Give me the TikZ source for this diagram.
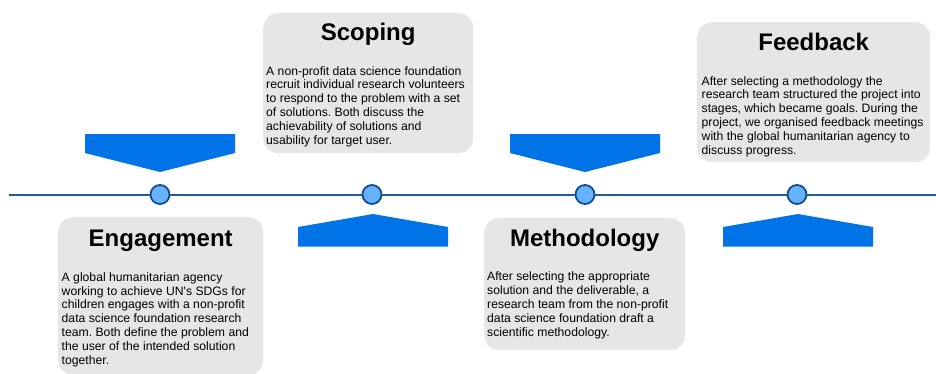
\documentclass[tikz,border=0pt]{standalone}
\usepackage{fontspec}
\setmainfont{Liberation Sans}
\usetikzlibrary{calc}

\definecolor{boxgrey}{HTML}{E6E6E6}
\definecolor{arrowblue}{HTML}{0073E6}
\definecolor{lineblue}{HTML}{1E5C9E}
\definecolor{dotblue}{HTML}{66B2FF}
\definecolor{dotrim}{HTML}{104E8B}

\tikzset{
	stagebox/.style={fill=boxgrey, rounded corners=15pt, inner sep=0pt, anchor=north west},
	stagetitle/.style={font=\fontsize{24}{27}\selectfont\bfseries, inner sep=0pt, anchor=base},
	stagetext/.style={font=\fontsize{12.2}{13.8}\selectfont\frenchspacing, align=left, inner sep=0pt, anchor=base west},
	marker/.style={circle, fill=dotblue, draw=dotrim, line width=1.8pt, minimum size=19pt, inner sep=0pt},
	timeline/.style={draw=lineblue, line width=2pt},
	stagearrow/.style={fill=arrowblue}
}

\begin{document}
\begin{tikzpicture}[x=1pt, y=-1pt]
			
			\useasboundingbox (0,0) rectangle (936,373);
			
			% timeline
			\coordinate (start) at (9,194.5);
			\coordinate (end) at (936,194.5);
			\node[marker] (engdot) at (160,194.5) {};
			\node[marker] (scodot) at (372,194.5) {};
			\node[marker] (metdot) at (585,194.5) {};
			\node[marker] (feedot) at (797,194.5) {};
			\draw[timeline] (start) -- (engdot);
			\draw[timeline] (engdot) -- (scodot);
			\draw[timeline] (scodot) -- (metdot);
			\draw[timeline] (metdot) -- (feedot);
			\draw[timeline] (feedot) -- (end);
			
			% pointers
			\fill[stagearrow] (85,134) -- (235,134) -- (235,153) -- (160,172) -- (85,153) -- cycle;
			\fill[stagearrow] (510,134) -- (660,134) -- (660,153) -- (585,172) -- (510,153) -- cycle;
			\fill[stagearrow] (298,246.7) -- (448,246.7) -- (448,227) -- (373,214) -- (298,227) -- cycle;
			\fill[stagearrow] (723,246.7) -- (873,246.7) -- (873,227) -- (798,214) -- (723,227) -- cycle;
			
			% text anchored at the baseline of the last line
			\begin{scope}
				\node[stagebox, minimum width=205pt, minimum height=158pt] (engbox) at (58,217) {};
				\node[stagetitle] (engtitle) at ([yshift=-29.5pt]engbox.north) {Engagement};
				\node[stagetext] (engtext) at ([xshift=3.5pt,yshift=-147pt]engbox.north west)
					{A global humanitarian agency\\working to achieve UN\textquotesingle s SDGs for\\children engages with a non-profit\\data science foundation research\\team. Both define the problem and\\the user of the intended solution\\together.};
			\end{scope}
			
			\begin{scope}
				\node[stagebox, minimum width=210pt, minimum height=140pt] (scobox) at (263,13) {};
				\node[stagetitle] (scotitle) at ([yshift=-27pt]scobox.north) {Scoping};
				\node[stagetext] (scotext) at ([xshift=3pt,yshift=-131pt]scobox.north west)
					{A non-profit data science foundation\\recruit individual research volunteers\\to respond to the problem with a set\\of solutions. Both discuss the\\achievability of solutions and\\usability for target user.};
			\end{scope}
			
			\begin{scope}
				\node[stagebox, minimum width=201pt, minimum height=132pt] (metbox) at (484,218) {};
				\node[stagetitle] (mettitle) at ([yshift=-28.7pt]metbox.north) {Methodology};
				\node[stagetext] (mettext) at ([xshift=3pt,yshift=-118pt]metbox.north west)
					{After selecting the appropriate\\solution and the deliverable, a\\research team from the non-profit\\data science foundation draft a\\scientific methodology.};
			\end{scope}
			
			\begin{scope}
				\node[stagebox, minimum width=233pt, minimum height=140pt] (feebox) at (697,22) {};
				\node[stagetitle] (feetitle) at ([yshift=-28pt]feebox.north) {Feedback};
				\node[stagetext] (feetext) at ([xshift=4.5pt,yshift=-132pt]feebox.north west)
					{After selecting a methodology the\\research team structured the project into\\stages, which became goals. During the\\project, we organised feedback meetings\\with the global humanitarian agency to\\discuss progress.};
			\end{scope}
		
		\end{tikzpicture}
\end{document}
